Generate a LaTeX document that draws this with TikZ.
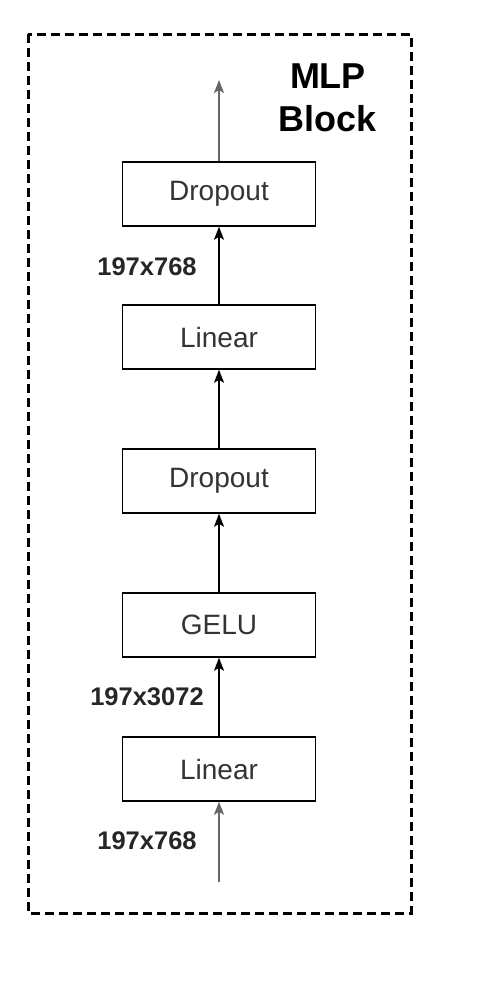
\documentclass[tikz,border=0pt]{standalone}
\usepackage{fontspec}
\setmainfont{Liberation Sans}
\usetikzlibrary{arrows.meta}

\begin{document}
\begin{tikzpicture}[
  x=1pt, y=-1pt,
  layer/.style={draw, line width=1.5pt, minimum width=193pt, minimum height=64pt,
    text=black!80, font=\fontsize{28}{30}\selectfont},
  flow/.style={line width=1.5pt, -{Stealth[length=13pt,width=10pt,inset=3pt]}},
  shape label/.style={font=\fontsize{25.5}{27}\selectfont\bfseries, text=black!85},
  ]
  \useasboundingbox (0,0) rectangle (502,996);

  % outer block
  \draw[line width=3pt, dash pattern=on 9pt off 5pt] (28,34) rectangle (411,913);
  \node[font=\fontsize{36}{43}\selectfont\bfseries, align=center] (title) at (328,98) {MLP\\Block};

  \node[layer] (linear1) at (219,769) {Linear};
  \node[layer] (gelu) at (219,625) {GELU};
  \node[layer] (drop1) at (219,481) {Dropout};
  \node[layer] (linear2) at (219,337) {Linear};
  \node[layer] (drop2) at (219,194) {Dropout};

  \coordinate (in) at (219,882);
  \coordinate (out) at (219,80);

  \draw[flow, black!60] (in) -- (linear1);
  \draw[flow] (linear1) -- (gelu);
  \draw[flow] (gelu) -- (drop1);
  \draw[flow] (drop1) -- (linear2);
  \draw[flow] (linear2) -- (drop2);
  \draw[flow, black!60] (drop2) -- (out);

  % tensor sizes
  \node[shape label] (size in) at (147,841) {197x768};
  \node[shape label] (size hidden) at (147,697) {197x3072};
  \node[shape label] (size out) at (147,267) {197x768};
\end{tikzpicture}
\end{document}
